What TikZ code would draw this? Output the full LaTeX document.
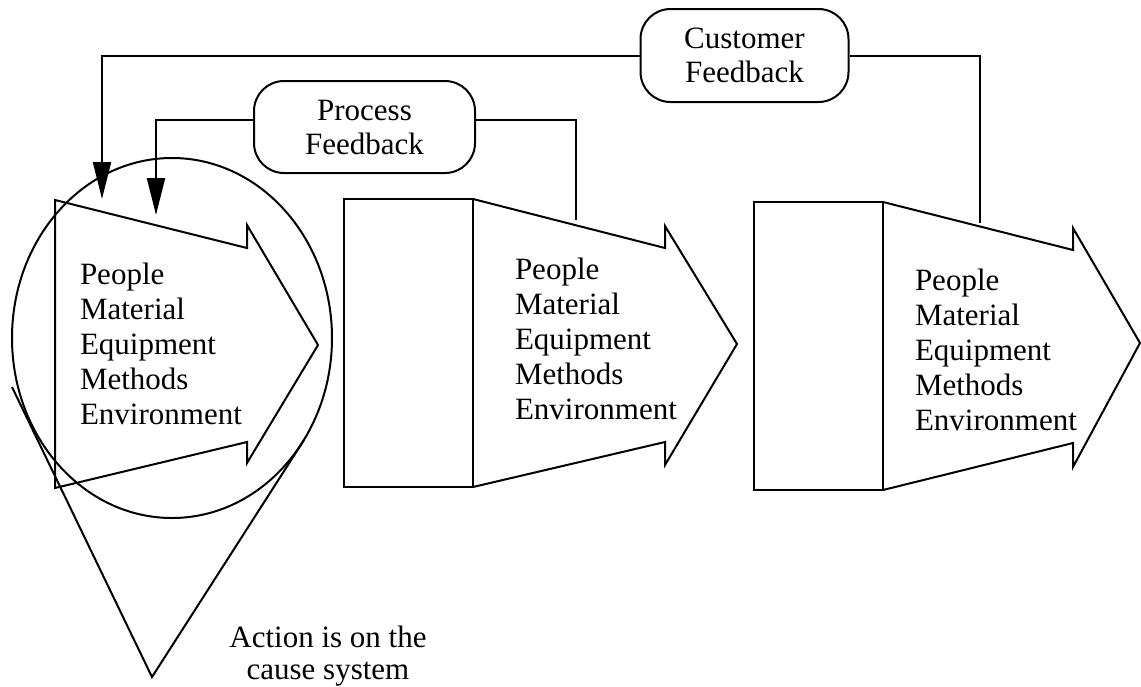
\documentclass[tikz,border=0pt]{standalone}
\usepackage{fontspec}
\setmainfont{Liberation Serif}
\usetikzlibrary{arrows.meta}
\begin{document}
\begin{tikzpicture}[x=1pt,y=-1pt,line width=2pt,line join=miter,
  lbl/.style={font=\fontsize{31}{35}\selectfont, align=left, anchor=north west, inner sep=0pt},
  fbbox/.style={draw, rounded corners=30pt, minimum width=208pt, minimum height=93pt, align=center, font=\fontsize{31}{34}\selectfont, inner sep=0pt},
  fbline/.style={-{Triangle[length=37pt,width=18pt]}}]
\useasboundingbox (0,0) rectangle (1141,686);

% big arrows
\draw (55,200) -- (247,248) -- (247,225) -- (318,345) -- (247,463) -- (247,442) -- (55,488) -- cycle;
\draw (344,199) rectangle (473,487);
\draw (473,199) -- (665,248) -- (665,226) -- (737,344) -- (665,465) -- (665,442) -- (473,487);
\draw (754,202) rectangle (883,490);
\draw (883,202) -- (1073,250) -- (1073,228) -- (1140,343) -- (1073,467) -- (1073,443) -- (883,490);

% circle and cone
\draw (172,338) ellipse [x radius=160, y radius=180];
\draw (12,387) -- (152,677) -- (304,440);

% texts
\node[lbl] (t1) at (79,262) {People\\Material\\Equipment\\Methods\\Environment};
\node[lbl] (t2) at (514,257) {People\\Material\\Equipment\\Methods\\Environment};
\node[lbl] (t3) at (914,268) {People\\Material\\Equipment\\Methods\\Environment};
\node[font=\fontsize{31}{32}\selectfont, align=center, anchor=north, inner sep=0pt] (act) at (328,625) {Action is on the\\cause system};

% feedback boxes
\node[fbbox] (cf) at (744.5,55.5) {Customer\\Feedback};
\node[fbbox, minimum width=221pt, minimum height=92pt] (pf) at (364.5,127) {Process\\Feedback};

\coordinate (ctip) at (102,199);
\coordinate (cstart) at (980,223);
\coordinate (ptip) at (156,215);
\coordinate (pstart) at (576,220);

\draw (cf.east) -| (cstart);
\draw[fbline] (cf.west) -| (ctip);
\draw ([yshift=7pt]pf.east) -| (pstart);
\draw[fbline] ([yshift=7pt]pf.west) -| (ptip);
\end{tikzpicture}
\end{document}
